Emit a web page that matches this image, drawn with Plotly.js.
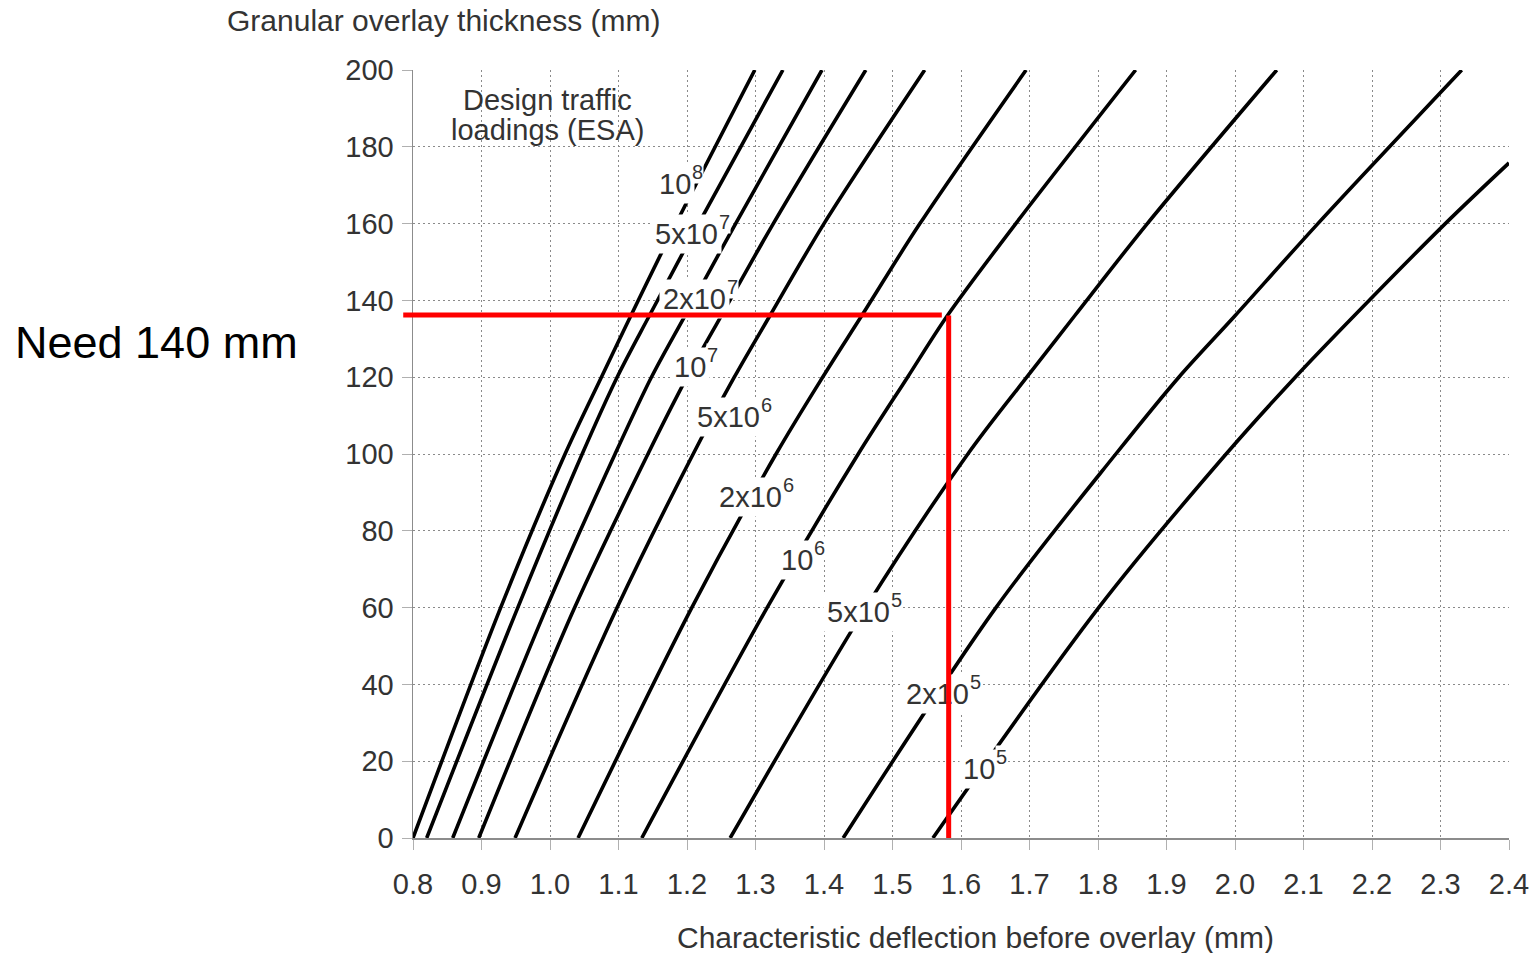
<!DOCTYPE html>
<html>
<head>
<meta charset="utf-8">
<script src="https://cdn.plot.ly/plotly-3.0.1.min.js"></script>
<style>html,body{margin:0;padding:0;background:#fff;}#chart{width:1535px;height:953px;}</style>
</head>
<body>
<div id="chart"></div>
<script>
// ---- Data ----
// Granular overlay thickness (mm) at which each curve was read
const thickness = [0, 60, 100, 120, 136, 160, 200];
const thickness1e5 = [0, 60, 100, 120, 136, 160, 175.8];

// Characteristic deflection (mm) for each design traffic loading (ESA)
const defl_1e8   = [0.800, 0.928, 1.022, 1.075, 1.118, 1.184, 1.299];
const defl_5e7   = [0.820, 0.953, 1.047, 1.098, 1.145, 1.217, 1.340];
const defl_2e7   = [0.858, 0.995, 1.095, 1.148, 1.197, 1.271, 1.397];
const defl_1e7   = [0.896, 1.036, 1.143, 1.200, 1.250, 1.326, 1.461];
const defl_5e6   = [0.949, 1.098, 1.209, 1.269, 1.321, 1.400, 1.547];
const defl_2e6   = [1.041, 1.207, 1.330, 1.398, 1.455, 1.540, 1.695];
const defl_1e6   = [1.134, 1.317, 1.450, 1.522, 1.580, 1.680, 1.855];
const defl_5e5   = [1.263, 1.461, 1.610, 1.696, 1.766, 1.872, 2.061];
const defl_2e5   = [1.428, 1.651, 1.826, 1.918, 2.000, 2.121, 2.331];
const defl_1e5   = [1.559, 1.801, 1.987, 2.088, 2.174, 2.307, 2.400];

// Curve labels (mantissa part and exponent) and where they sit on the chart
const labelBase  = ['10', '5x10', '2x10', '10', '5x10', '2x10', '10', '5x10', '2x10', '10'];
const labelExp   = ['8', '7', '7', '7', '6', '6', '6', '5', '5', '5'];
const labelDefl  = [1.209, 1.248, 1.260, 1.230, 1.310, 1.342, 1.387, 1.499, 1.615, 1.652];
const labelThick = [170.8, 157.8, 140.9, 123.2, 110.2, 89.3, 72.9, 59.4, 38.0, 18.5];

// Axis ticks
const xTickVals = [0.8, 0.9, 1.0, 1.1, 1.2, 1.3, 1.4, 1.5, 1.6, 1.7, 1.8, 1.9, 2.0, 2.1, 2.2, 2.3, 2.4];
const xTickText = ['0.8','0.9','1.0','1.1','1.2','1.3','1.4','1.5','1.6','1.7','1.8','1.9','2.0','2.1','2.2','2.3','2.4'];
const yTickVals = [0, 20, 40, 60, 80, 100, 120, 140, 160, 180, 200];

// Design reading (red lines)
const needDefl = 1.582;      // deflection of the vertical red line
const needDeflEnd = 1.572;   // where the horizontal red line stops
const needStart = 0.785;     // horizontal red line starts just left of the axis
const needThick = 136.2;     // thickness of the horizontal red line

// Texts
const xTitle = 'Characteristic deflection before overlay (mm)';
const yTitle = 'Granular overlay thickness (mm)';
const legendTitle1 = 'Design traffic';
const legendTitle2 = 'loadings (ESA)';
const needText = 'Need 140 mm';

// ---- Build chart ----
const curves = [
  [defl_1e8, thickness], [defl_5e7, thickness], [defl_2e7, thickness], [defl_1e7, thickness],
  [defl_5e6, thickness], [defl_2e6, thickness], [defl_1e6, thickness], [defl_5e5, thickness],
  [defl_2e5, thickness], [defl_1e5, thickness1e5]
];

const traces = curves.map((c, i) => ({
  type: 'scatter', mode: 'lines', x: c[0], y: c[1],
  line: {color: '#000', width: 3.6, shape: 'spline', smoothing: 0.9},
  hoverinfo: 'skip', showlegend: false, name: labelBase[i] + '^' + labelExp[i]
}));

const FONT = 'Liberation Sans, Arial, Helvetica, sans-serif';
const annotations = [];

annotations.push({xref: 'paper', yref: 'paper', x: 0.028, y: 1.065, xanchor: 'center', yanchor: 'middle',
  text: yTitle, showarrow: false, font: {family: FONT, size: 30, color: '#333'}});
annotations.push({xref: 'paper', yref: 'paper', x: 0.513, y: -0.129, xanchor: 'center', yanchor: 'middle',
  text: xTitle, showarrow: false, font: {family: FONT, size: 30, color: '#333'}});
annotations.push({xref: 'paper', yref: 'paper', x: -0.365, y: 0.645, xanchor: 'left', yanchor: 'middle',
  text: needText, showarrow: false, font: {family: FONT, size: 45, color: '#000'}});
annotations.push({xref: 'paper', yref: 'paper', x: 0.1223, y: 0.961, xanchor: 'center', yanchor: 'middle',
  text: legendTitle1, showarrow: false, font: {family: FONT, size: 29, color: '#333'}});
annotations.push({xref: 'paper', yref: 'paper', x: 0.1223, y: 0.922, xanchor: 'center', yanchor: 'middle',
  text: legendTitle2, showarrow: false, font: {family: FONT, size: 29, color: '#333'}});

labelBase.forEach((t, i) => {
  annotations.push({xref: 'x', yref: 'y', x: labelDefl[i], y: labelThick[i], xanchor: 'right', yanchor: 'middle',
    xshift: 2, yshift: -2, text: t, showarrow: false, bgcolor: '#fff', borderpad: 3,
    font: {family: FONT, size: 29, color: '#333'}});
  annotations.push({xref: 'x', yref: 'y', x: labelDefl[i], y: labelThick[i], xanchor: 'left', yanchor: 'middle',
    xshift: -2, yshift: 10, text: labelExp[i], showarrow: false, bgcolor: '#fff', borderpad: 0,
    font: {family: FONT, size: 20, color: '#333'}});
});

// red reading lines (drawn last so they sit on top of label boxes)
annotations.push({xref: 'x', yref: 'y', axref: 'x', ayref: 'y', x: needDefl, y: 0, ax: needDefl, ay: needThick,
  text: '', showarrow: true, arrowhead: 0, arrowwidth: 5, arrowcolor: '#ff0000', standoff: 0, startstandoff: 0, borderpad: 0});
annotations.push({xref: 'x', yref: 'y', axref: 'x', ayref: 'y', x: needDeflEnd, y: needThick, ax: needStart, ay: needThick,
  text: '', showarrow: true, arrowhead: 0, arrowwidth: 5, arrowcolor: '#ff0000', standoff: 0, startstandoff: 0, borderpad: 0});

// white panel behind the "Design traffic loadings (ESA)" heading, hiding the grid there
const shapes = [{type: 'rect', xref: 'paper', yref: 'paper', x0: 0.0155, x1: 0.2226, y0: 0.893, y1: 0.9935,
  fillcolor: '#fff', line: {width: 0}, layer: 'between'}];

const axisCommon = {
  showgrid: true, gridcolor: '#8a8a8a', gridwidth: 1, griddash: '2px,3px',
  showline: true, linecolor: '#8c8c8c', linewidth: 1.5, zeroline: false,
  ticks: 'outside', ticklen: 10, tickwidth: 1, tickcolor: '#b0b0b0',
  tickfont: {family: FONT, size: 29, color: '#333'}, fixedrange: true
};

const layout = {
  width: 1535, height: 953,
  margin: {l: 413, r: 26, t: 70, b: 115, pad: 0},
  paper_bgcolor: '#fff', plot_bgcolor: '#fff',
  showlegend: false,
  font: {family: FONT, color: '#333', size: 29},
  xaxis: Object.assign({}, axisCommon, {range: [0.8, 2.4], tickmode: 'array', tickvals: xTickVals, ticktext: xTickText, ticklabelstandoff: 10}),
  yaxis: Object.assign({}, axisCommon, {range: [0, 200], tickmode: 'array', tickvals: yTickVals, ticklabelstandoff: 2}),
  annotations: annotations,
  shapes: shapes
};

Plotly.newPlot('chart', traces, layout, {displayModeBar: false, staticPlot: true});
</script>
</body>
</html>
